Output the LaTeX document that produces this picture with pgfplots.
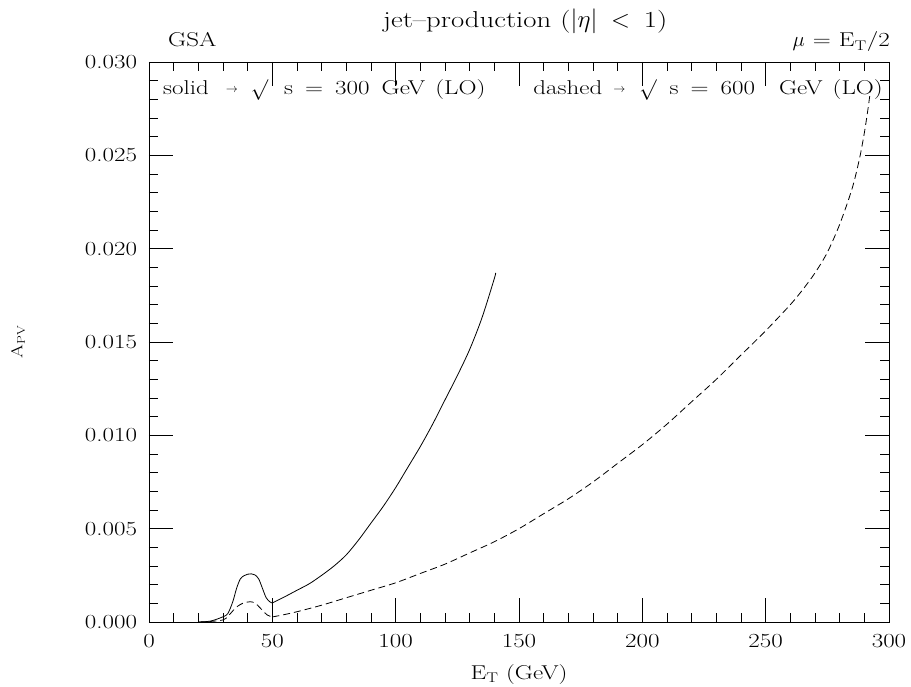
\documentclass[border=0pt]{standalone}
\usepackage{fontspec}
\setmainfont{lmroman17-regular.otf}[FakeStretch=1.25]
\usepackage{pgfplots}
\pgfplotsset{compat=1.18}
\newcommand{\sarr}{\raisebox{2pt}{\fontsize{12}{14}\selectfont$\rightarrow$}}
\begin{document}
\begin{tikzpicture}[x=1pt,y=1pt]
\fontsize{20}{23}\selectfont
\begin{axis}[
  at={(149pt,65pt)}, anchor=south west,
  scale only axis, width=740pt, height=560pt,
  xmin=0, xmax=300, ymin=0, ymax=0.03,
  xtick={0,50,100,150,200,250,300}, minor x tick num=4,
  ytick={0,0.005,0.01,0.015,0.02,0.025,0.03}, minor y tick num=4,
  major tick length=24pt, minor tick length=9pt,
  tick pos=both, ticklabel pos=left, tick align=inside,
  scaled y ticks=false,
  yticklabel style={xshift=-5pt, /pgf/number format/fixed, /pgf/number format/fixed zerofill, /pgf/number format/precision=3, /pgf/number format/assume math mode=true},
  xticklabel style={yshift=-5pt, /pgf/number format/assume math mode=true},
  tick label style={font=\fontsize{20}{23}\selectfont},
  every tick/.style={black, line width=0.6pt},
  axis line style={line width=0.8pt},
  xlabel={E\textsubscript{T} (GeV)},
  ylabel={A\textsubscript{PV}},
  xlabel style={at={(axis description cs:0.5,-0.093)}, anchor=center, font=\fontsize{20}{23}\selectfont},
  ylabel style={at={(axis description cs:-0.177,0.5)}, anchor=center, font=\fontsize{16}{19}\selectfont},
  clip=false,
]
\addplot[black, line width=0.8pt, smooth] coordinates {
(20,0) (25,0.00005) (30,0.00028) (32,0.00046) (34,0.0011) (35.5,0.0018) (37,0.0023) (38.5,0.00248) (40,0.00256) (41.5,0.00258) (43,0.00252) (44.5,0.0023) (46,0.0018) (47.5,0.0013) (49,0.00108) (50,0.00102)
};
\addplot[black, line width=0.8pt, smooth] coordinates {
(50,0.00102) (55,0.00135) (60,0.0017) (65,0.00205) (70,0.0025) (75,0.0030) (80,0.0036) (85,0.0044) (90,0.0053) (95,0.0062) (100,0.0072) (105,0.0083) (110,0.0094) (115,0.0106) (120,0.0119) (125,0.0132) (130,0.0146) (135,0.0163) (140,0.0184) (140.5,0.0187)
};
\addplot[black, line width=0.8pt, dash pattern=on 7pt off 4pt, smooth] coordinates {
(20,0) (25,0.00003) (30,0.00011) (32,0.0003) (34,0.0006) (36,0.00085) (38,0.001) (40,0.00107) (42,0.00107) (44,0.0009) (46,0.00062) (48,0.00037) (50,0.00027)
};
\addplot[black, line width=0.8pt, dash pattern=on 7pt off 4pt, smooth] coordinates {
(50,0.00027) (55,0.0004) (60,0.00055) (70,0.0009) (80,0.0013) (90,0.0017) (100,0.0021) (110,0.0026) (120,0.0031) (130,0.0037) (140,0.0043) (150,0.0050) (160,0.0058) (170,0.0066) (180,0.0075) (190,0.0085) (200,0.0095) (210,0.0106) (220,0.0118) (230,0.0130) (240,0.0143) (250,0.0156) (260,0.0170) (265,0.0178) (270,0.0187) (275,0.0198) (280,0.0213) (285,0.0232) (288,0.0248) (290,0.0262) (291.5,0.0275) (292.5,0.0285)
};
\end{axis}
% title and corner labels
\node[anchor=base west, inner sep=0pt, font=\fontsize{23}{26}\selectfont] at (383,659) {jet--production\hspace{0.4em}($|\eta|$\hspace{0.6em}$<$\hspace{0.6em}1)};
\node[anchor=base west, inner sep=0pt] at (168,640) {GSA};
\node[anchor=base east, inner sep=0pt] at (890,640) {$\mu$\hspace{0.4em}=\hspace{0.4em}E\textsubscript{T}/2};
% in-plot labels
\node[anchor=base west, inner sep=0pt] at (163,592) {solid\hspace{17pt}\sarr\hspace{13pt}$\surd$\hspace{16pt}s\hspace{12pt}=\hspace{12pt}300\hspace{12pt}GeV\hspace{10pt}(LO)};
\node[anchor=base east, inner sep=0pt] at (883,592) {dashed\hspace{11pt}\sarr\hspace{14pt}$\surd$\hspace{13pt}s\hspace{12pt}=\hspace{12pt}600\hspace{24pt}GeV\hspace{10pt}(LO)};
\pgfresetboundingbox
\path[use as bounding box] (0,0) rectangle (911,687);
\end{tikzpicture}
\end{document}
